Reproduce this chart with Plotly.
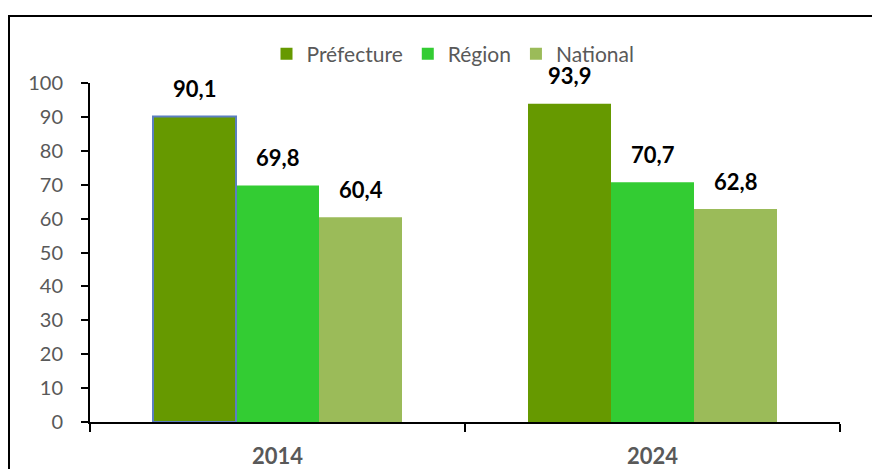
import plotly.graph_objects as go

years = ["2014", "2024"]
series_names = ["Préfecture", "Région", "National"]
prefecture = [90.1, 93.9]
region = [69.8, 70.7]
national = [60.4, 62.8]
y_ticks = [0, 10, 20, 30, 40, 50, 60, 70, 80, 90, 100]

values = [prefecture, region, national]
colors = ["#669900", "#33CC33", "#9BBB59"]
groups = ["p", "r", "n"]

fig = go.Figure()
for name, vals, col, grp in zip(series_names, values, colors, groups):
    fig.add_trace(go.Bar(name=name, x=years, y=vals, offsetgroup=grp,
                         marker=dict(color=col, line=dict(width=0))))

# thin blue outline on the 2014 Préfecture bar only (overlaid, same offset group)
fig.add_trace(go.Bar(x=years[:1], y=prefecture[:1], offsetgroup="p", showlegend=False,
                     hoverinfo="skip",
                     marker=dict(color="rgba(0,0,0,0)", line=dict(color="#5B7FC0", width=2))))

def fmt(v):
    return f"{v:.1f}".replace(".", ",")

bar_px = 83
for i, vals in enumerate(values):
    for j, v in enumerate(vals):
        fig.add_annotation(x=j, y=v, text=f"<b>{fmt(v)}</b>", showarrow=False,
                           xshift=(i - 1) * bar_px, yshift=28, yanchor="middle",
                           font=dict(family="Lato", size=22, color="#000000"))

# cut-off title fragment at the very top
fig.add_annotation(x=(479 - 82) / 750, xref="paper", y=1.0 + (75 - 3) / 339, yref="paper",
                   text="<b>(%)</b>", showarrow=False, yanchor="bottom",
                   font=dict(family="Lato", size=22, color="#000000"))

# outer frame (runs off the right and bottom edges, as in the original)
fig.add_shape(type="rect", xref="paper", yref="paper",
              x0=(1 - 82) / 750, x1=1.5, y0=-0.5, y1=1 + (75 - 8) / 339,
              line=dict(color="#000000", width=2), fillcolor="rgba(0,0,0,0)", layer="below")

fig.update_layout(
    width=872, height=461,
    margin=dict(l=82, r=40, t=75, b=47, autoexpand=False),
    paper_bgcolor="white", plot_bgcolor="white",
    barmode="group", bargap=0.336, bargroupgap=0,
    showlegend=True,
    legend=dict(orientation="h", x=(445 - 82) / 750, xanchor="center",
                y=1 + (75 - 46) / 339, yanchor="middle",
                font=dict(family="Lato", size=21, color="#595959"),
                itemwidth=30, bgcolor="rgba(0,0,0,0)"),
    xaxis=dict(type="category", range=[-0.5, 1.5], autorange=False, automargin=False,
               showline=True, linecolor="#000000", linewidth=2,
               ticks="outside", tickson="boundaries", ticklen=8, tickwidth=2, tickcolor="#000000",
               tickfont=dict(family="Lato", size=22, color="#595959", weight="bold"),
               tickangle=0, ticklabelstandoff=14, showgrid=False, zeroline=False),
    yaxis=dict(range=[0, 100], autorange=False, tickvals=y_ticks, automargin=False, showline=True,
               linecolor="#000000", linewidth=2,
               ticks="outside", ticklen=7, tickwidth=2, tickcolor="#000000",
               tickfont=dict(family="Lato", size=20, color="#595959"),
               ticklabelstandoff=14, showgrid=False, zeroline=False),
)

fig.write_html("out.html",
               post_script="document.body.style.overflow='hidden';"
                           "document.documentElement.style.overflow='hidden';")
